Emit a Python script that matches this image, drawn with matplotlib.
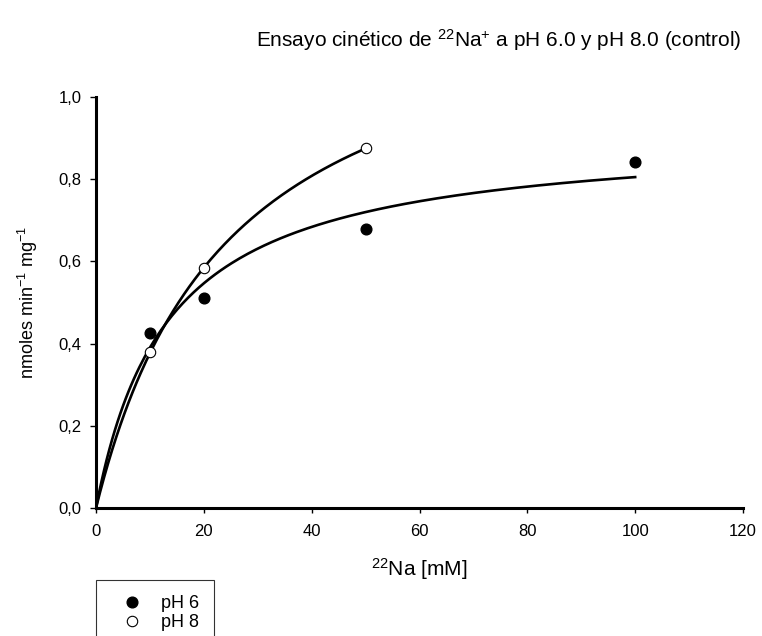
import numpy as np
import matplotlib.pyplot as plt
from matplotlib.ticker import FuncFormatter

plt.rcParams['font.family'] = ['Liberation Sans', 'DejaVu Sans']
plt.rcParams['mathtext.default'] = 'regular'

# Datos
na_ph6 = [10, 20, 50, 100]
v_ph6 = [0.426, 0.511, 0.679, 0.841]
na_ph8 = [10, 20, 50]
v_ph8 = [0.380, 0.584, 0.875]

# Parametros de ajuste hiperbolico (Michaelis-Menten)
vmax_ph6, km_ph6 = 0.913, 13.4
vmax_ph8, km_ph8 = 1.307, 24.7

fig = plt.figure(figsize=(7.62, 6.36), dpi=100)
ax = fig.add_axes([96/762, 1-508/636, (743-96)/762, (508-97)/636])

# Curvas de ajuste
x6 = np.linspace(0, max(na_ph6), 200)
x8 = np.linspace(0, max(na_ph8), 200)
ax.plot(x6, vmax_ph6*x6/(km_ph6+x6), color='black', lw=1.9)
ax.plot(x8, vmax_ph8*x8/(km_ph8+x8), color='black', lw=1.9)

# Puntos
p6, = ax.plot(na_ph6, v_ph6, 'o', color='black', markersize=7.7, label='pH 6', clip_on=False)
p8, = ax.plot(na_ph8, v_ph8, 'o', markerfacecolor='white', markeredgecolor='black',
              markeredgewidth=0.8, markersize=7.5, label='pH 8', clip_on=False)

ax.set_xlim(0, 120)
ax.set_ylim(0, 1.0)
ax.set_xticks([0, 20, 40, 60, 80, 100, 120])
ax.set_yticks([0, 0.2, 0.4, 0.6, 0.8, 1.0])
ax.yaxis.set_major_formatter(FuncFormatter(lambda v, p: ('%.1f' % v).replace('.', ',')))

for s in ['top', 'right']:
    ax.spines[s].set_visible(False)
for s in ['left', 'bottom']:
    ax.spines[s].set_linewidth(2.2)
ax.tick_params(axis='y', direction='out', length=4.5, width=1, labelsize=12, pad=6)
ax.tick_params(axis='x', direction='out', length=3.8, width=1, labelsize=12, pad=8)

ax.set_xlabel('$^{22}$Na [mM]', fontsize=15, labelpad=12)
ax.set_ylabel('nmoles min$^{-1}$ mg$^{-1}$', fontsize=13, labelpad=13)

fig.text(499/762, 1-40/636, 'Ensayo cinético de $^{22}$Na$^{+}$ a pH 6.0 y pH 8.0 (control)',
         ha='center', va='center', fontsize=15)

leg = fig.legend(handles=[p6, p8], loc='upper left', bbox_to_anchor=(96/762, 1-580/636),
                 borderaxespad=0, frameon=True, fancybox=False, fontsize=13,
                 handlelength=2.25, handletextpad=0.5, borderpad=0.85, labelspacing=0.1)
leg.get_frame().set_edgecolor('black')
leg.get_frame().set_linewidth(0.8)

fig.savefig('out.png', dpi=100)
